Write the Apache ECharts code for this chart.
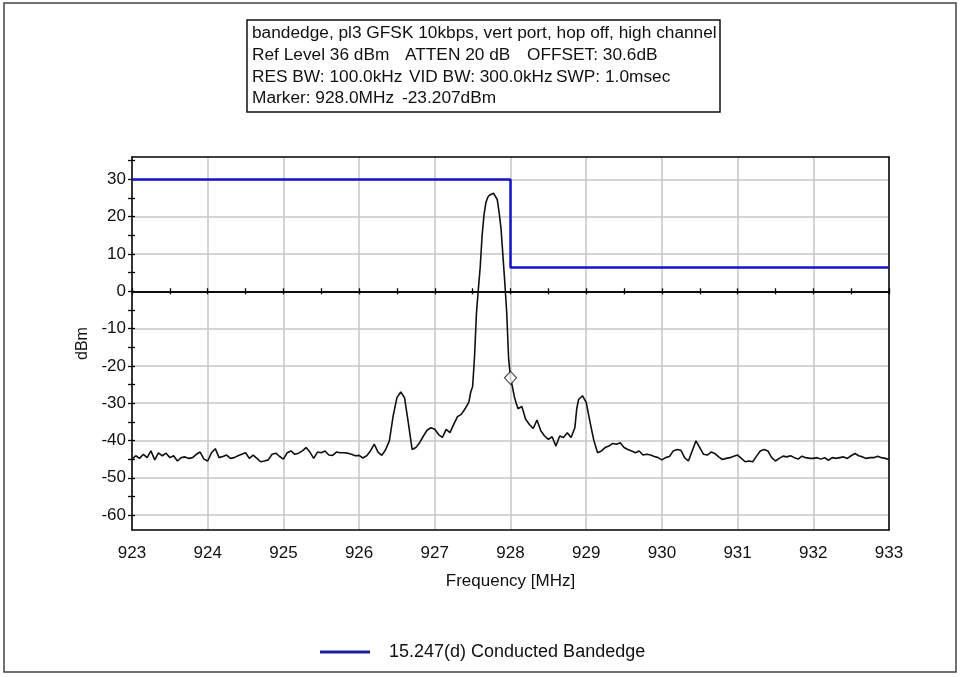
<!DOCTYPE html>
<html>
<head>
<meta charset="utf-8">
<script src="https://cdn.jsdelivr.net/npm/echarts@6/dist/echarts.min.js"></script>
<style>
html,body{margin:0;padding:0;background:#fff;}
#c{width:960px;height:677px;}
</style>
</head>
<body>
<div id="c"></div>
<script>
// ---- data ----
const titleLines = [
  ['bandedge, pl3 GFSK 10kbps, vert port, hop off, high channel'],
  ['Ref Level 36 dBm', 'ATTEN 20 dB', 'OFFSET: 30.6dB'],
  ['RES BW: 100.0kHz', 'VID BW: 300.0kHz', 'SWP: 1.0msec'],
  ['Marker: 928.0MHz', '-23.207dBm']
];
const xTicks = [923, 924, 925, 926, 927, 928, 929, 930, 931, 932, 933];
const yTicks = [-60, -50, -40, -30, -20, -10, 0, 10, 20, 30];
const yMinorTicks = [-60, -55, -50, -45, -40, -35, -30, -25, -20, -15, -10, -5, 0, 5, 10, 15, 20, 25, 30, 35];
const limitName = '15.247(d) Conducted Bandedge';
const limitMHz = [923, 928, 928, 933];
const limitDbm = [30, 30, 6.4, 6.4];
const markerMHz = [928.0];
const markerDbm = [-23.207];
const trace = [
  [923.00,-45.0],[923.05,-44.1],[923.10,-44.8],[923.15,-43.7],[923.20,-44.6],
  [923.25,-42.8],[923.30,-45.2],[923.35,-43.3],[923.40,-44.1],[923.45,-43.4],
  [923.50,-44.6],[923.55,-44.1],[923.60,-45.5],[923.65,-44.6],[923.70,-44.4],
  [923.75,-44.8],[923.80,-44.6],[923.85,-43.7],[923.90,-43.1],[923.95,-45.0],
  [924.00,-45.5],[924.05,-43.3],[924.10,-42.2],[924.15,-44.6],[924.20,-44.3],
  [924.25,-43.9],[924.30,-44.8],[924.35,-44.6],[924.40,-44.1],[924.45,-43.7],
  [924.50,-43.3],[924.55,-44.8],[924.60,-43.9],[924.65,-44.8],[924.70,-45.7],
  [924.75,-45.5],[924.80,-45.2],[924.85,-43.7],[924.90,-43.4],[924.95,-44.3],
  [925.00,-45.0],[925.05,-43.3],[925.10,-42.8],[925.15,-43.7],[925.20,-43.4],
  [925.25,-42.8],[925.30,-41.9],[925.35,-43.1],[925.40,-44.8],[925.45,-43.1],
  [925.50,-43.3],[925.55,-42.8],[925.60,-43.9],[925.65,-44.0],[925.70,-43.1],
  [925.75,-43.3],[925.80,-43.3],[925.85,-43.4],[925.90,-43.7],[925.95,-44.1],
  [926.00,-44.0],[926.05,-44.7],[926.10,-44.1],[926.15,-42.8],[926.20,-41.0],
  [926.25,-43.1],[926.30,-44.0],[926.35,-42.5],[926.40,-40.1],[926.45,-33.4],
  [926.50,-28.5],[926.55,-27.0],[926.60,-28.5],[926.65,-35.2],[926.70,-42.4],
  [926.75,-41.9],[926.80,-40.6],[926.85,-38.8],[926.90,-37.2],[926.95,-36.6],
  [927.00,-37.0],[927.05,-38.4],[927.10,-39.2],[927.15,-37.0],[927.20,-37.9],
  [927.25,-35.7],[927.30,-33.6],[927.35,-33.0],[927.40,-31.5],[927.45,-29.7],
  [927.475,-27.0],[927.50,-25.5],[927.525,-17.5],[927.55,-6.0],[927.575,0.5],
  [927.60,6.5],[927.625,15.0],[927.65,20.5],[927.675,23.8],[927.70,25.2],
  [927.725,25.8],[927.75,26.2],[927.775,26.3],[927.80,25.9],[927.825,24.6],
  [927.85,21.1],[927.875,16.8],[927.90,9.5],[927.925,2.3],[927.95,-5.7],
  [927.975,-18.0],[928.00,-23.2],[928.025,-25.6],[928.05,-28.2],[928.075,-30.0],
  [928.10,-31.5],[928.15,-30.9],[928.20,-34.3],[928.25,-35.7],[928.30,-36.8],
  [928.35,-34.5],[928.40,-37.4],[928.45,-38.8],[928.50,-39.7],[928.55,-39.0],
  [928.60,-41.5],[928.65,-38.8],[928.70,-39.2],[928.75,-37.9],[928.80,-39.2],
  [928.85,-36.6],[928.875,-31.5],[928.90,-29.0],[928.95,-28.0],[929.00,-29.8],
  [929.05,-35.0],[929.10,-39.9],[929.15,-43.3],[929.20,-42.8],[929.25,-41.9],
  [929.30,-41.5],[929.35,-40.8],[929.40,-41.0],[929.45,-40.6],[929.50,-41.9],
  [929.55,-42.4],[929.60,-42.8],[929.65,-43.3],[929.70,-42.8],[929.75,-43.9],
  [929.80,-43.7],[929.85,-43.9],[929.90,-44.3],[929.95,-44.6],[930.00,-45.2],
  [930.05,-44.6],[930.10,-44.3],[930.15,-42.8],[930.20,-42.4],[930.25,-42.6],
  [930.30,-44.6],[930.35,-45.5],[930.40,-42.8],[930.45,-40.1],[930.50,-41.9],
  [930.55,-43.7],[930.60,-43.9],[930.65,-43.1],[930.70,-43.5],[930.75,-44.4],
  [930.80,-45.1],[930.85,-44.8],[930.90,-44.6],[930.95,-44.2],[931.00,-43.9],
  [931.05,-44.8],[931.10,-45.7],[931.15,-45.5],[931.20,-45.7],[931.25,-44.2],
  [931.30,-42.8],[931.35,-42.4],[931.40,-42.8],[931.45,-44.6],[931.50,-45.5],
  [931.55,-44.8],[931.60,-44.2],[931.65,-44.4],[931.70,-44.1],[931.75,-44.6],
  [931.80,-45.0],[931.85,-44.2],[931.90,-44.6],[931.95,-44.8],[932.00,-44.8],
  [932.05,-44.6],[932.10,-45.0],[932.15,-44.6],[932.20,-45.3],[932.25,-44.6],
  [932.30,-44.8],[932.35,-44.6],[932.40,-44.4],[932.45,-44.8],[932.50,-44.1],
  [932.55,-43.5],[932.60,-44.1],[932.65,-44.4],[932.70,-44.8],[932.75,-44.6],
  [932.80,-44.6],[932.85,-44.2],[932.90,-44.6],[932.95,-44.8],[933.00,-45.1]
];

// ---- chart ----
const FONT = '"Liberation Sans", Arial, sans-serif';
const chart = echarts.init(document.getElementById('c'), null, {renderer: 'canvas'});
const xBase = {type: 'value', min: 923, max: 933, gridIndex: 0};
const yBase = {type: 'value', min: -64, max: 36, gridIndex: 0};

const titleX = [[252], [252, 405, 527], [252, 409, 556], [252, 402]];
const titleY = [33, 55, 77, 98];
const titleTexts = [];
titleLines.forEach((line, i) => line.forEach((t, j) => {
  titleTexts.push({type: 'text', x: titleX[i][j], y: titleY[i],
    style: {text: t, fill: '#111', font: '17.3px ' + FONT, textVerticalAlign: 'middle'}});
}));

chart.setOption({
  animation: false,
  backgroundColor: '#fff',
  grid: {left: 132, right: 71, top: 157, bottom: 147},
  legend: {
    data: [{name: limitName, itemStyle: {color: '#1c1ca0'}}],
    left: 315, top: 638, icon: 'rect', itemWidth: 50, itemHeight: 3,
    textStyle: {fontSize: 18, color: '#111', fontFamily: FONT, padding: [0, 0, 0, 14]}
  },
  xAxis: [
    Object.assign({}, xBase, {
      position: 'bottom', interval: 1,
      name: 'Frequency [MHz]', nameLocation: 'middle', nameGap: 43,
      nameTextStyle: {fontSize: 17, color: '#111', fontFamily: FONT},
      axisLine: {onZero: false, lineStyle: {color: '#000', width: 1.5}},
      axisTick: {show: false},
      axisLabel: {fontSize: 17, color: '#111', fontFamily: FONT, margin: 15},
      splitLine: {show: true, lineStyle: {color: '#c6c6c6', width: 1.5}}
    }),
    Object.assign({}, xBase, {
      position: 'top',
      axisLine: {onZero: false, lineStyle: {color: '#000', width: 1.5}},
      axisTick: {show: false}, axisLabel: {show: false}, splitLine: {show: false}
    }),
    Object.assign({}, xBase, {
      position: 'bottom', interval: 0.5,
      axisLine: {onZero: true, onZeroAxisIndex: 0, lineStyle: {color: '#000', width: 1.6}},
      axisTick: {show: true, inside: true, length: 3, lineStyle: {color: '#000', width: 1.3}},
      axisLabel: {show: false}, splitLine: {show: false}
    }),
    Object.assign({}, xBase, {
      position: 'bottom', interval: 0.5,
      axisLine: {onZero: true, onZeroAxisIndex: 1, lineStyle: {color: '#000', width: 1.6}},
      axisTick: {show: true, inside: false, length: 3, lineStyle: {color: '#000', width: 1.3}},
      axisLabel: {show: false}, splitLine: {show: false}
    })
  ],
  yAxis: [
    Object.assign({}, yBase, {
      position: 'left',
      name: 'dBm', nameLocation: 'middle', nameGap: 40,
      nameTextStyle: {fontSize: 16, color: '#111', fontFamily: FONT},
      axisLine: {onZero: false, lineStyle: {color: '#000', width: 1.5}},
      axisTick: {show: true, inside: false, length: 4, customValues: yMinorTicks, lineStyle: {color: '#000', width: 1.3}},
      axisLabel: {fontSize: 17, color: '#111', fontFamily: FONT, margin: 6, customValues: yTicks},
      splitLine: {show: false}
    }),
    Object.assign({}, yBase, {
      position: 'right',
      axisLine: {show: true, onZero: false, lineStyle: {color: '#000', width: 1.5}},
      axisTick: {show: false}, axisLabel: {show: false}, splitLine: {show: false}
    }),
    Object.assign({}, yBase, {
      position: 'left',
      axisLine: {show: false, onZero: false},
      axisTick: {show: true, inside: true, length: 3, customValues: yMinorTicks, lineStyle: {color: '#000', width: 1.3}},
      axisLabel: {show: false}, splitLine: {show: false}
    }),
    Object.assign({}, yBase, {
      position: 'left',
      axisLine: {show: false, onZero: false},
      axisTick: {show: false, customValues: yTicks},
      axisLabel: {show: false},
      splitLine: {show: true, lineStyle: {color: '#c6c6c6', width: 1.5}}
    })
  ],
  series: [
    {
      type: 'line', name: limitName, xAxisIndex: 0, yAxisIndex: 0,
      data: limitMHz.map((f, i) => [f, limitDbm[i]]),
      showSymbol: false, symbol: 'none', z: 3,
      lineStyle: {color: '#1414c8', width: 2.5}, itemStyle: {color: '#1414c8'}
    },
    {
      type: 'line', name: 'trace', xAxisIndex: 0, yAxisIndex: 0,
      data: trace, showSymbol: false, symbol: 'none', z: 4,
      lineStyle: {color: '#111', width: 1.6}
    },
    {
      type: 'scatter', name: 'marker', xAxisIndex: 0, yAxisIndex: 0,
      data: markerMHz.map((f, i) => [f, markerDbm[i]]),
      symbol: 'diamond', symbolSize: [12, 13], z: 5,
      itemStyle: {color: '#fff', borderColor: '#222', borderWidth: 1.2}
    }
  ],
  graphic: [
    {type: 'rect', shape: {x: 4, y: 3, width: 952, height: 669},
      style: {fill: 'none', stroke: '#444', lineWidth: 1.5}, z: 100},
    {type: 'rect', shape: {x: 247, y: 20, width: 473, height: 92},
      style: {fill: '#fff', stroke: '#111', lineWidth: 1.5}, z: 100},
  ].concat(titleTexts.map(t => Object.assign(t, {z: 101})))
});
</script>
</body>
</html>
